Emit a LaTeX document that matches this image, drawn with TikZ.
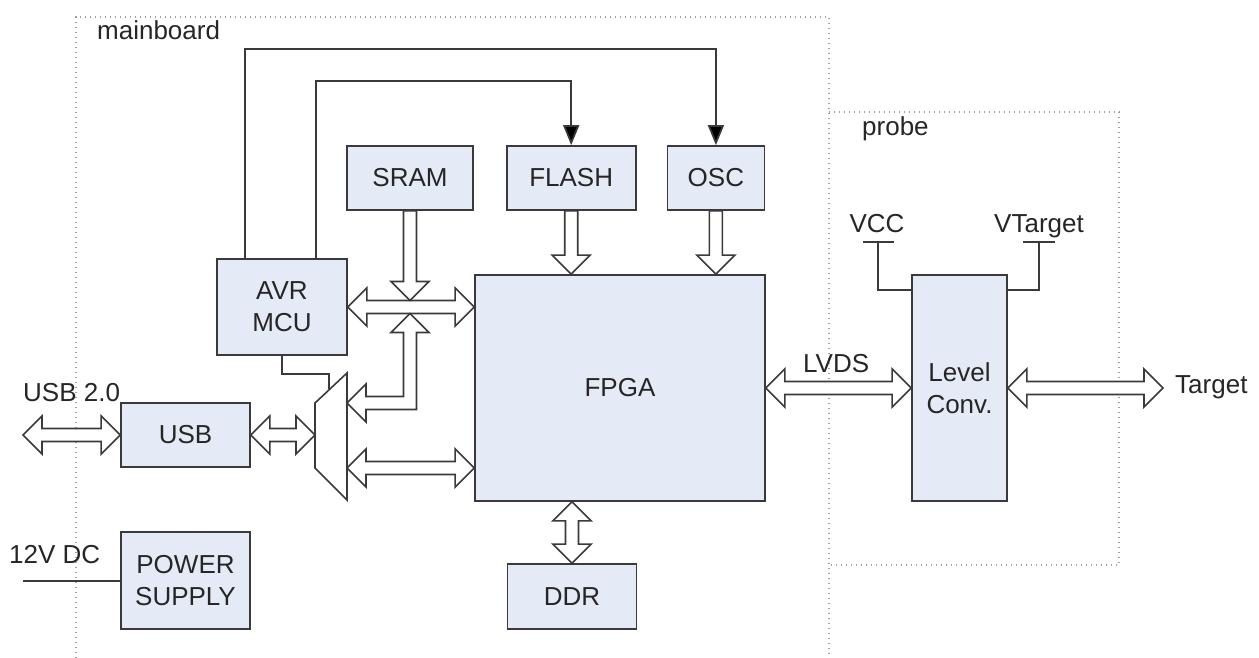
\documentclass[tikz,border=0pt]{standalone}
\usepackage{fontspec}
\setmainfont{Liberation Sans}
\usepackage{xcolor}
\usetikzlibrary{arrows.meta, positioning, calc}

\definecolor{boxfill}{RGB}{228,235,246}
\definecolor{linegray}{RGB}{58,58,58}

% fat bus arrows, all built from two end points
\newcommand{\hbus}[2]{% double head, left tip #1, right tip #2
  \draw[bus] let \p1=(#1), \p2=(#2) in
    (\x1,\y1) -- ({\x1+19pt},{\y1+19pt}) -- ({\x1+19pt},{\y1+6.5pt}) -- ({\x2-19pt},{\y1+6.5pt})
    -- ({\x2-19pt},{\y1+19pt}) -- (\x2,\y1) -- ({\x2-19pt},{\y1-19pt}) -- ({\x2-19pt},{\y1-6.5pt})
    -- ({\x1+19pt},{\y1-6.5pt}) -- ({\x1+19pt},{\y1-19pt}) -- cycle;}
\newcommand{\vbus}[2]{% double head, top tip #1, bottom tip #2
  \draw[bus] let \p1=(#1), \p2=(#2) in
    (\x1,\y1) -- ({\x1+19pt},{\y1-19pt}) -- ({\x1+6.5pt},{\y1-19pt}) -- ({\x1+6.5pt},{\y2+19pt})
    -- ({\x1+19pt},{\y2+19pt}) -- (\x1,\y2) -- ({\x1-19pt},{\y2+19pt}) -- ({\x1-6.5pt},{\y2+19pt})
    -- ({\x1-6.5pt},{\y1-19pt}) -- ({\x1-19pt},{\y1-19pt}) -- cycle;}
\newcommand{\dbus}[2]{% single head pointing down, from #1 to tip #2
  \draw[bus] let \p1=(#1), \p2=(#2) in
    ({\x1-6.5pt},\y1) -- ({\x1+6.5pt},\y1) -- ({\x1+6.5pt},{\y2+19pt}) -- ({\x1+19pt},{\y2+19pt})
    -- (\x1,\y2) -- ({\x1-19pt},{\y2+19pt}) -- ({\x1-6.5pt},{\y2+19pt}) -- cycle;}
\newcommand{\lbus}[2]{% left tip #1, then up to tip #2
  \draw[bus] let \p1=(#1), \p2=(#2) in
    (\x1,\y1) -- ({\x1+19pt},{\y1+19pt}) -- ({\x1+19pt},{\y1+6.5pt}) -- ({\x2-6.5pt},{\y1+6.5pt})
    -- ({\x2-6.5pt},{\y2-19pt}) -- ({\x2-19pt},{\y2-19pt}) -- (\x2,\y2) -- ({\x2+19pt},{\y2-19pt})
    -- ({\x2+6.5pt},{\y2-19pt}) -- ({\x2+6.5pt},{\y1-6.5pt}) -- ({\x1+19pt},{\y1-6.5pt})
    -- ({\x1+19pt},{\y1-19pt}) -- cycle;}

\begin{document}
\begin{tikzpicture}[
    x=1pt, y=-1pt,
    font=\fontsize{26}{32}\selectfont,
    box/.style={draw=linegray, line width=1.7pt, fill=boxfill, align=center, inner sep=0pt, text=black!85},
    bus/.style={draw=linegray, line width=1.6pt, fill=white, line join=miter},
    wire/.style={draw=linegray, line width=1.7pt},
    ctl/.style={wire, -{Triangle[length=20pt, width=16pt, fill=black]}},
    zone/.style={draw=gray!75, line width=1.6pt, dash pattern=on 1.3pt off 3.7pt},
    lbl/.style={inner sep=0pt, text=black!85},
]
\useasboundingbox[fill=white] (0,0) rectangle (1259,658);

% board outlines
\draw[zone] (76,658) -- (76,17) -- (829,17) -- (829,658);
\draw[zone] (829,112) -- (1119,112) -- (1119,565) -- (829,565);
\node[lbl, anchor=base west] (mainlbl) at (97,40) {mainboard};
\node[lbl, anchor=base west] (probelbl) at (862,136) {probe};

% blocks
\node[box, minimum width=130pt, minimum height=96pt] (avr) at (282,307) {AVR\\MCU};
\node[box, minimum width=126pt, minimum height=64pt] (sram) at (410,178) {SRAM};
\node[box, minimum width=129pt, minimum height=64pt, right=32pt of sram] (flash) {FLASH};
\node[box, minimum width=97pt, minimum height=64pt, right=30pt of flash] (osc) {OSC};
\node[box, minimum width=290pt, minimum height=226pt] (fpga) at (620,388) {FPGA};
\node[box, minimum width=129pt, minimum height=64pt] (usb) at (185.5,435) {USB};
\node[box, minimum width=129pt, minimum height=97pt, below=63pt of usb] (power) {POWER\\SUPPLY};
\node[box, minimum width=129pt, minimum height=65pt] (ddr) at (572,596.5) {DDR};
\node[box, minimum width=95pt, minimum height=226pt] (lvl) at (959.5,388) {Level\\Conv.};

% mux
\coordinate (muxa) at (315,403);
\coordinate (muxb) at (347,373);
\coordinate (muxc) at (347,500);
\coordinate (muxd) at (315,468);
\draw[bus] (muxa) -- (muxb) -- (muxc) -- (muxd) -- cycle;
\coordinate (muxin) at (315,435);
\coordinate (muxup) at (347,403);
\coordinate (muxlo) at (347,468);
\coordinate (muxsel) at (329,389);

% control lines
\draw[ctl] ([xshift=-37pt]avr.north) -- ++(0,-209) -| (osc.north);
\draw[ctl] ([xshift=34pt]avr.north) -- ++(0,-177) -| (flash.north);
\draw[wire] (avr.south) -- ++(0,18) -| (muxsel);

% buses
\coordinate (hub) at (avr.east -| sram.south);
\hbus{avr.east}{fpga.west |- avr.east}
\dbus{sram.south}{[yshift=6.5pt]hub}
\lbus{muxup}{[yshift=-6.5pt]hub}
\hbus{muxlo}{fpga.west |- muxlo}
\hbus{usb.east}{muxin}
\coordinate (usbext) at (23,435);
\hbus{usbext}{usb.west}
\dbus{flash.south}{flash.south |- fpga.north}
\dbus{osc.south}{osc.south |- fpga.north}
\vbus{fpga.south -| ddr.north}{ddr.north}
\hbus{fpga.east}{lvl.west}
\coordinate (tgtend) at (1163,388);
\hbus{lvl.east}{tgtend}

% supplies
\node[lbl, anchor=base] (vcc) at (877,233) {VCC};
\node[lbl, anchor=base] (vtgt) at (1039,233) {VTarget};
\coordinate (vccbar) at (878,242);
\coordinate (vtgtbar) at (1039,242);
\draw[wire] ([xshift=-15pt]vccbar) -- ([xshift=16pt]vccbar);
\draw[wire] ([xshift=-16pt]vtgtbar) -- ([xshift=16pt]vtgtbar);
\draw[wire] (vccbar) |- ([yshift=-16pt]lvl.north west);
\draw[wire] (vtgtbar) |- ([yshift=-16pt]lvl.north east);
\coordinate (dcin) at (23,581);
\draw[wire] (dcin) -- (dcin -| power.west);

% outside labels
\node[lbl, anchor=base west] (usblbl) at (23,401) {USB 2.0};
\node[lbl, anchor=base west] (dclbl) at (9,563) {12V DC};
\node[lbl, anchor=base west] (lvdslbl) at (803,372) {LVDS};
\node[lbl, anchor=base west] (tgtlbl) at (1175,393) {Target};
\end{tikzpicture}
\end{document}
